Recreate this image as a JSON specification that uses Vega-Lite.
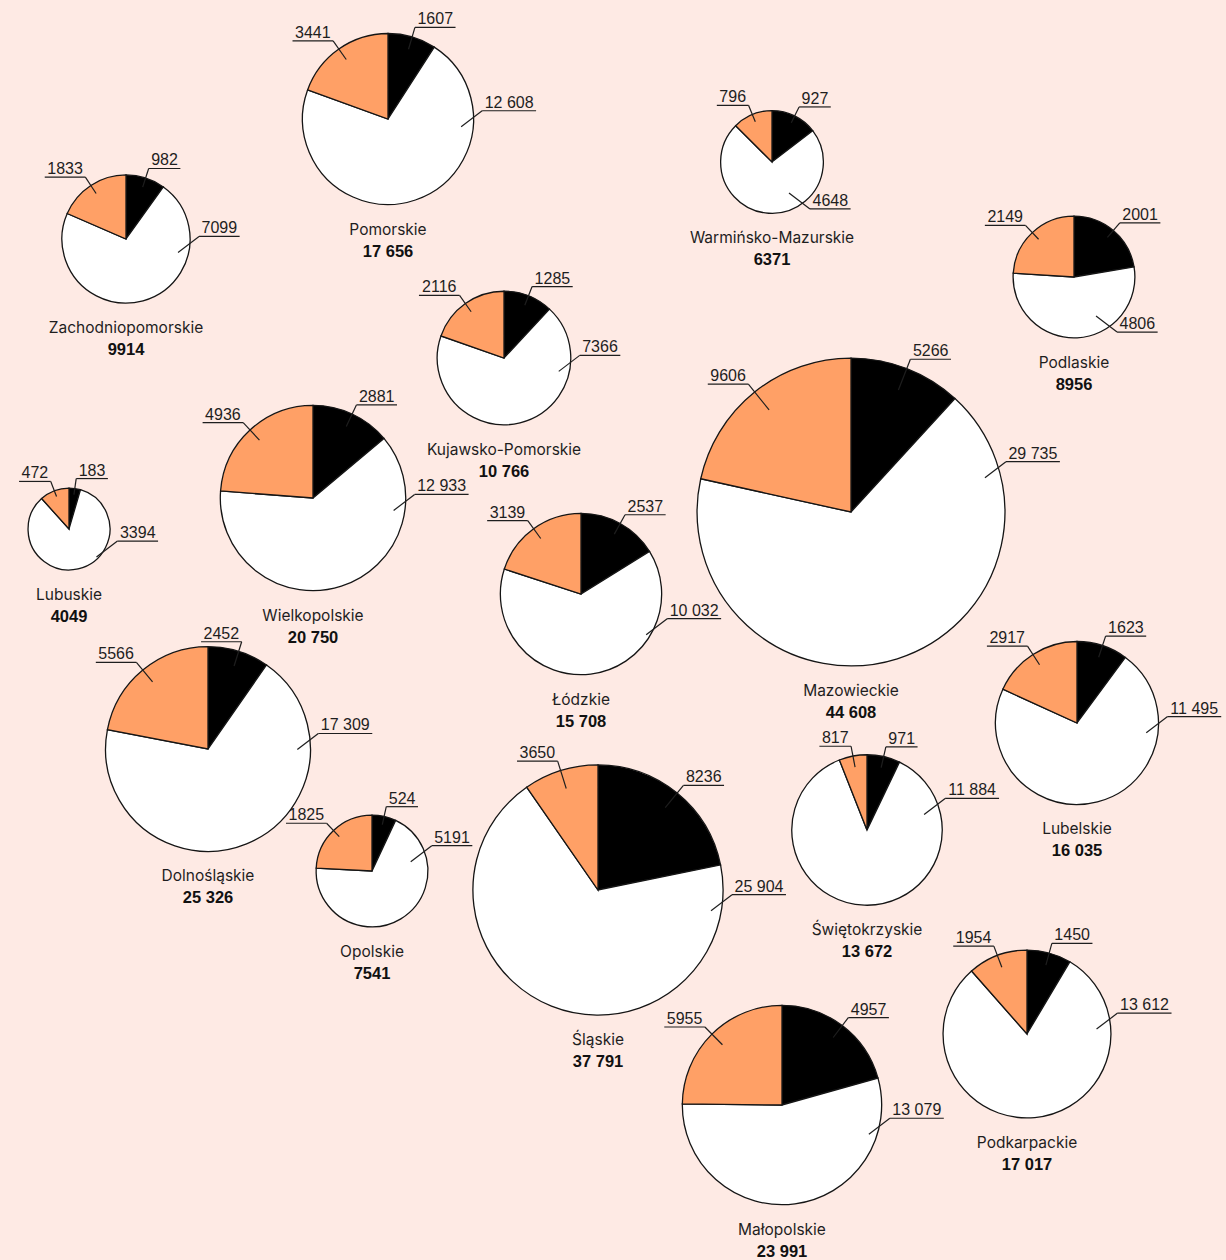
{
  "$schema": "https://vega.github.io/schema/vega-lite/v6.json",
  "width": 1226,
  "height": 1260,
  "padding": 0,
  "autosize": {"type": "none"},
  "background": "#FEEAE4",
  "config": {"view": {"stroke": null}},
  "datasets": {
    "regions": [
      {"region": "Pomorskie", "cx": 388, "cy": 119, "total": 17656, "wDeg": 85},
      {"region": "Zachodniopomorskie", "cx": 126, "cy": 239, "total": 9914, "wDeg": 88},
      {"region": "Warmińsko-Mazurskie", "cx": 772, "cy": 162, "total": 6371, "wDeg": 141},
      {"region": "Podlaskie", "cx": 1074, "cy": 277, "total": 8956, "wDeg": 142},
      {"region": "Kujawsko-Pomorskie", "cx": 504, "cy": 358, "total": 10766, "wDeg": 88},
      {"region": "Lubuskie", "cx": 69, "cy": 529, "total": 4049, "wDeg": 104},
      {"region": "Wielkopolskie", "cx": 313, "cy": 498, "total": 20750, "wDeg": 88},
      {"region": "Łódzkie", "cx": 581, "cy": 594, "total": 15708, "wDeg": 106},
      {"region": "Mazowieckie", "cx": 851, "cy": 512, "total": 44608, "wDeg": 72},
      {"region": "Lubelskie", "cx": 1077, "cy": 723, "total": 16035, "wDeg": 86},
      {"region": "Dolnośląskie", "cx": 208, "cy": 749, "total": 25326, "wDeg": 82, "bLeft": true},
      {"region": "Opolskie", "cx": 372, "cy": 871, "total": 7541, "wDeg": 67},
      {"region": "Śląskie", "cx": 598, "cy": 890, "total": 37791, "wDeg": 92},
      {"region": "Świętokrzyskie", "cx": 867, "cy": 830, "total": 13672, "wDeg": 68},
      {"region": "Podkarpackie", "cx": 1027, "cy": 1034, "total": 17017, "wDeg": 77},
      {"region": "Małopolskie", "cx": 782, "cy": 1105, "total": 23991, "wDeg": 97}
    ],
    "slices": [
      {"region": "Pomorskie", "kind": "black", "ord": 1, "value": 1607},
      {"region": "Pomorskie", "kind": "white", "ord": 2, "value": 12608},
      {"region": "Pomorskie", "kind": "orange", "ord": 3, "value": 3441},
      {"region": "Zachodniopomorskie", "kind": "black", "ord": 1, "value": 982},
      {"region": "Zachodniopomorskie", "kind": "white", "ord": 2, "value": 7099},
      {"region": "Zachodniopomorskie", "kind": "orange", "ord": 3, "value": 1833},
      {"region": "Warmińsko-Mazurskie", "kind": "black", "ord": 1, "value": 927},
      {"region": "Warmińsko-Mazurskie", "kind": "white", "ord": 2, "value": 4648},
      {"region": "Warmińsko-Mazurskie", "kind": "orange", "ord": 3, "value": 796},
      {"region": "Podlaskie", "kind": "black", "ord": 1, "value": 2001},
      {"region": "Podlaskie", "kind": "white", "ord": 2, "value": 4806},
      {"region": "Podlaskie", "kind": "orange", "ord": 3, "value": 2149},
      {"region": "Kujawsko-Pomorskie", "kind": "black", "ord": 1, "value": 1285},
      {"region": "Kujawsko-Pomorskie", "kind": "white", "ord": 2, "value": 7366},
      {"region": "Kujawsko-Pomorskie", "kind": "orange", "ord": 3, "value": 2116},
      {"region": "Lubuskie", "kind": "black", "ord": 1, "value": 183},
      {"region": "Lubuskie", "kind": "white", "ord": 2, "value": 3394},
      {"region": "Lubuskie", "kind": "orange", "ord": 3, "value": 472},
      {"region": "Wielkopolskie", "kind": "black", "ord": 1, "value": 2881},
      {"region": "Wielkopolskie", "kind": "white", "ord": 2, "value": 12933},
      {"region": "Wielkopolskie", "kind": "orange", "ord": 3, "value": 4936},
      {"region": "Łódzkie", "kind": "black", "ord": 1, "value": 2537},
      {"region": "Łódzkie", "kind": "white", "ord": 2, "value": 10032},
      {"region": "Łódzkie", "kind": "orange", "ord": 3, "value": 3139},
      {"region": "Mazowieckie", "kind": "black", "ord": 1, "value": 5266},
      {"region": "Mazowieckie", "kind": "white", "ord": 2, "value": 29735},
      {"region": "Mazowieckie", "kind": "orange", "ord": 3, "value": 9606},
      {"region": "Lubelskie", "kind": "black", "ord": 1, "value": 1623},
      {"region": "Lubelskie", "kind": "white", "ord": 2, "value": 11495},
      {"region": "Lubelskie", "kind": "orange", "ord": 3, "value": 2917},
      {"region": "Dolnośląskie", "kind": "black", "ord": 1, "value": 2452},
      {"region": "Dolnośląskie", "kind": "white", "ord": 2, "value": 17309},
      {"region": "Dolnośląskie", "kind": "orange", "ord": 3, "value": 5566},
      {"region": "Opolskie", "kind": "black", "ord": 1, "value": 524},
      {"region": "Opolskie", "kind": "white", "ord": 2, "value": 5191},
      {"region": "Opolskie", "kind": "orange", "ord": 3, "value": 1825},
      {"region": "Śląskie", "kind": "black", "ord": 1, "value": 8236},
      {"region": "Śląskie", "kind": "white", "ord": 2, "value": 25904},
      {"region": "Śląskie", "kind": "orange", "ord": 3, "value": 3650},
      {"region": "Świętokrzyskie", "kind": "black", "ord": 1, "value": 971},
      {"region": "Świętokrzyskie", "kind": "white", "ord": 2, "value": 11884},
      {"region": "Świętokrzyskie", "kind": "orange", "ord": 3, "value": 817},
      {"region": "Podkarpackie", "kind": "black", "ord": 1, "value": 1450},
      {"region": "Podkarpackie", "kind": "white", "ord": 2, "value": 13612},
      {"region": "Podkarpackie", "kind": "orange", "ord": 3, "value": 1954},
      {"region": "Małopolskie", "kind": "black", "ord": 1, "value": 4957},
      {"region": "Małopolskie", "kind": "white", "ord": 2, "value": 13079},
      {"region": "Małopolskie", "kind": "orange", "ord": 3, "value": 5955}
    ]
  },
  "data": {"name": "slices"},
  "transform": [
    {"lookup": "region", "from": {"data": {"name": "regions"}, "key": "region", "fields": ["cx", "cy", "total", "wDeg", "bLeft"]}},
    {"joinaggregate": [{"op": "sum", "field": "value", "as": "partsum"}], "groupby": ["region"]},
    {"window": [{"op": "sum", "field": "value", "as": "cumEnd"}], "sort": [{"field": "ord", "order": "ascending"}], "groupby": ["region"], "frame": [null, 0]},
    {"calculate": "2 * PI * (datum.cumEnd - datum.value) / datum.partsum", "as": "a0"},
    {"calculate": "2 * PI * datum.cumEnd / datum.partsum", "as": "a1"},
    {"calculate": "datum.total > 37791 ? 125 + (sqrt(datum.total) - 194.4) * 1.72 : 0.6435 * sqrt(datum.total)", "as": "r"},
    {"calculate": "datum.kind == 'white' ? PI * datum.wDeg / 180 : (datum.a0 + datum.a1) / 2", "as": "la"},
    {"calculate": "datum.kind == 'white' ? datum.cx + (datum.r + 9) * sin(datum.la) : datum.cx + (datum.r + 10) * sin(datum.la)", "as": "ex"},
    {"calculate": "datum.kind == 'white' ? datum.cy - (datum.r + 9) * cos(datum.la) : datum.cy - (datum.r + 10) * cos(datum.la)", "as": "ey"},
    {"calculate": "datum.kind == 'white' ? datum.ex - 21 : datum.cx + 0.85 * datum.r * sin(datum.la)", "as": "px"},
    {"calculate": "datum.kind == 'white' ? datum.ey + (datum.wDeg > 120 ? -16 : 16) : datum.cy - 0.85 * datum.r * cos(datum.la)", "as": "py"},
    {"calculate": "(datum.kind == 'black' && datum.bLeft) ? -1 : (sin(datum.la) >= 0 ? 1 : -1)", "as": "side"},
    {"calculate": "datum.value >= 10000 ? replace(format(datum.value, ','), ',', ' ') : toString(datum.value)", "as": "lbl"},
    {"calculate": "8.9 * length(replace(datum.lbl, ' ', '')) + (datum.value >= 10000 ? 4.45 : 0) + 5", "as": "lw"},
    {"calculate": "datum.ex + datum.side * datum.lw", "as": "ux2"},
    {"calculate": "(datum.ex + datum.ux2) / 2", "as": "tx"},
    {"calculate": "datum.total >= 10000 ? replace(format(datum.total, ','), ',', ' ') : toString(datum.total)", "as": "totLbl"},
    {"calculate": "datum.cy + datum.r + 25", "as": "ny"},
    {"calculate": "datum.cy + datum.r + 47", "as": "ty"}
  ],
  "layer": [
    {
      "mark": {"type": "arc", "stroke": "#151515", "strokeWidth": 1.3},
      "encoding": {
        "x": {"field": "cx", "type": "quantitative", "scale": {"domain": [0, 1226], "nice": false, "zero": false}, "axis": null},
        "y": {"field": "cy", "type": "quantitative", "scale": {"domain": [0, 1260], "nice": false, "zero": false, "reverse": true}, "axis": null},
        "theta": {"field": "a0", "type": "quantitative", "scale": null, "stack": null},
        "theta2": {"field": "a1"},
        "radius": {"field": "r", "type": "quantitative", "scale": null},
        "color": {"field": "kind", "type": "nominal", "scale": {"domain": ["black", "white", "orange"], "range": ["#000000", "#FFFFFF", "#FFA066"]}, "legend": null}
      }
    },
    {
      "mark": {"type": "rule", "color": "#1e1e1e", "strokeWidth": 1.2},
      "encoding": {
        "x": {"field": "px", "type": "quantitative", "axis": null},
        "y": {"field": "py", "type": "quantitative", "axis": null},
        "x2": {"field": "ex"},
        "y2": {"field": "ey"}
      }
    },
    {
      "mark": {"type": "rule", "color": "#1e1e1e", "strokeWidth": 1.2},
      "encoding": {
        "x": {"field": "ex", "type": "quantitative", "axis": null},
        "x2": {"field": "ux2"},
        "y": {"field": "ey", "type": "quantitative", "axis": null}
      }
    },
    {
      "mark": {"type": "text", "font": "Liberation Sans", "fontSize": 16, "color": "#1e1e1e", "align": "center", "baseline": "alphabetic", "dy": -3},
      "encoding": {
        "x": {"field": "tx", "type": "quantitative", "axis": null},
        "y": {"field": "ey", "type": "quantitative", "axis": null},
        "text": {"field": "lbl"}
      }
    },
    {
      "transform": [{"filter": "datum.kind == 'black'"}],
      "mark": {"type": "text", "font": "Inter", "fontSize": 15.5, "color": "#1e1e1e", "align": "center", "baseline": "middle"},
      "encoding": {
        "x": {"field": "cx", "type": "quantitative", "axis": null},
        "y": {"field": "ny", "type": "quantitative", "axis": null},
        "text": {"field": "region"}
      }
    },
    {
      "transform": [{"filter": "datum.kind == 'black'"}],
      "mark": {"type": "text", "font": "Liberation Sans", "fontSize": 16.5, "fontWeight": "bold", "color": "#111111", "align": "center", "baseline": "middle"},
      "encoding": {
        "x": {"field": "cx", "type": "quantitative", "axis": null},
        "y": {"field": "ty", "type": "quantitative", "axis": null},
        "text": {"field": "totLbl"}
      }
    }
  ]
}
